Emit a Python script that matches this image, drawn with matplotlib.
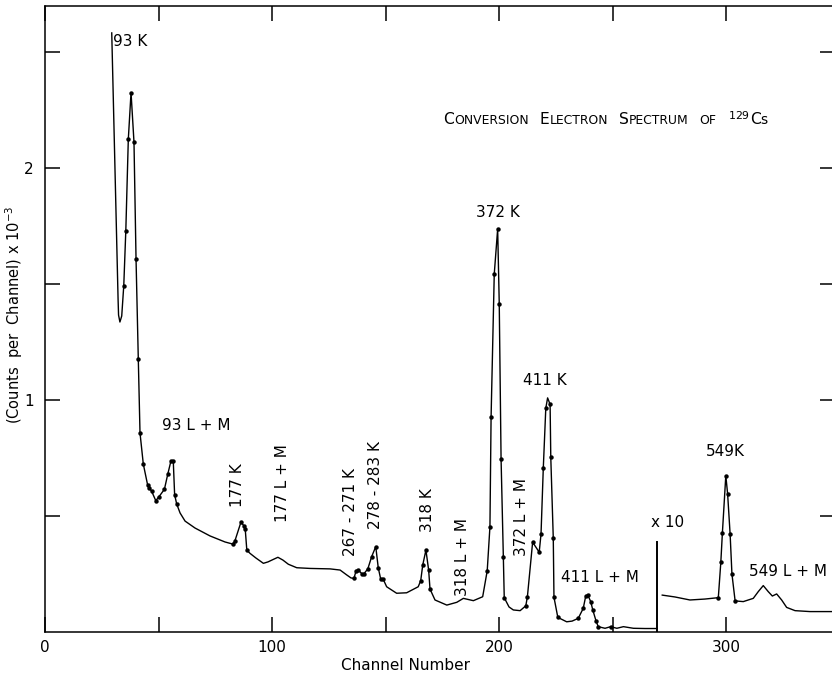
import numpy as np
import matplotlib.pyplot as plt
from matplotlib.offsetbox import TextArea, HPacker, AnnotationBbox

# measured points (dots) and the hand-drawn trace between them, counts in 10^3
main_dot_ch = [34.7, 35.6, 36.7, 37.9, 39.2, 40.1, 41.1, 41.85, 43.3, 45.2, 46.0, 47.0,
               48.8, 50.2, 52.6, 54.1, 55.5, 56.5, 57.1, 58.0,
               82.7, 83.6, 86.3, 87.7, 88.2, 88.9,
               136.1, 137.0, 138.0, 139.8, 140.4, 142.2, 143.9, 145.7, 146.8, 147.9, 149.0,
               165.5, 166.4, 167.8, 169.0, 169.6,
               194.8, 196.0, 196.5, 197.9, 199.4, 200.1, 200.9, 201.9, 202.3,
               211.8, 212.5, 214.8, 217.7, 218.5, 219.5, 220.6, 222.5, 222.8, 223.9, 224.2, 225.9,
               234.9, 237.1, 238.2, 239.1, 240.4, 241.3, 242.7, 243.7, 249.2]
main_dot_cnt = [1.493, 1.730, 2.124, 2.325, 2.111, 1.608, 1.175, 0.858, 0.724, 0.634, 0.621, 0.606,
                0.566, 0.583, 0.615, 0.681, 0.738, 0.738, 0.592, 0.552,
                0.379, 0.391, 0.473, 0.457, 0.444, 0.353,
                0.231, 0.263, 0.267, 0.249, 0.250, 0.272, 0.325, 0.368, 0.277, 0.227, 0.227,
                0.221, 0.289, 0.353, 0.267, 0.185,
                0.264, 0.454, 0.925, 1.543, 1.737, 1.414, 0.747, 0.325, 0.148,
                0.113, 0.152, 0.387, 0.344, 0.422, 0.706, 0.964, 0.981, 0.753, 0.404, 0.150, 0.063,
                0.059, 0.102, 0.155, 0.159, 0.131, 0.095, 0.049, 0.023, 0.023]

main_line_ch = [29.4, 32.2, 32.4, 33.0, 33.8,
                59.5, 61.7, 66.1, 72.7, 79.3,
                90.3, 92.9, 96.2, 98.2, 100.6, 102.6, 104.8, 107.2, 110.9, 116.7, 125.6, 130.0,
                132.9, 134.8,
                150.5, 154.9, 159.3, 164.4,
                171.8, 177.0, 181.4, 184.3, 188.7, 192.8,
                204.4, 206.3, 209.3, 221.4,
                229.8, 232.2,
                246.7, 251.9, 254.8, 259.2, 264.3, 269.6]
main_line_cnt = [2.582, 1.431, 1.366, 1.336, 1.362,
                 0.513, 0.478, 0.448, 0.414, 0.388,
                 0.339, 0.319, 0.296, 0.302, 0.313, 0.322, 0.310, 0.292, 0.277, 0.274, 0.272, 0.267,
                 0.246, 0.233,
                 0.195, 0.167, 0.169, 0.195,
                 0.138, 0.116, 0.128, 0.145, 0.135, 0.152,
                 0.108, 0.095, 0.092, 1.009,
                 0.044, 0.047,
                 0.016, 0.016, 0.023, 0.016, 0.015, 0.015]

# high-energy part, plotted x10
x10_dot_ch = [296.6, 297.7, 298.4, 299.9, 300.7, 301.8, 302.6, 304.0]
x10_dot_cnt = [0.148, 0.300, 0.428, 0.674, 0.595, 0.422, 0.250, 0.134]

x10_line_ch = [271.9, 277.5, 284.1, 290.7, 307.6, 312.0, 314.2, 316.4, 318.6, 320.4,
               322.3, 324.5, 326.7, 330.4, 337.0, 346.7, 349.0]
x10_line_cnt = [0.159, 0.151, 0.138, 0.142, 0.131, 0.145, 0.174, 0.200, 0.174, 0.155,
                0.164, 0.138, 0.106, 0.092, 0.088, 0.088, 0.088]

break_ch = 269.8
break_top = 0.388

# peak labels: text, channel, counts, rotation
peak_labels = [
    ("93 K", 37.4, 2.543, 0),
    ("93 L + M", 66.5, 0.888, 0),
    ("177 K", 85.0, 0.634, 90),
    ("177 L + M", 104.8, 0.642, 90),
    ("267 - 271 K", 134.4, 0.517, 90),
    ("278 - 283 K", 145.4, 0.634, 90),
    ("318 K", 168.7, 0.526, 90),
    ("318 L + M", 183.7, 0.323, 90),
    ("372 K", 199.6, 1.81, 0),
    ("372 L + M", 209.7, 0.496, 90),
    ("411 K", 220.3, 1.086, 0),
    ("411 L + M", 244.5, 0.233, 0),
    ("x 10", 274.4, 0.474, 0),
    ("549K", 299.6, 0.776, 0),
    ("549 L + M", 327.3, 0.259, 0),
]


def merged(dot_ch, dot_cnt, line_ch, line_cnt):
    ch = np.concatenate([dot_ch, line_ch])
    cnt = np.concatenate([dot_cnt, line_cnt])
    order = np.argsort(ch)
    return ch[order], cnt[order]


fig = plt.figure(figsize=(8.32, 6.77), dpi=100)
ax = fig.add_axes([45 / 832, 45 / 677, 790 / 832, 626 / 677])

for dch, dcnt, lch, lcnt in [(main_dot_ch, main_dot_cnt, main_line_ch, main_line_cnt),
                             (x10_dot_ch, x10_dot_cnt, x10_line_ch, x10_line_cnt)]:
    ch, cnt = merged(dch, dcnt, lch, lcnt)
    ax.plot(ch, cnt, color="black", lw=1.0)
    ax.plot(dch, dcnt, "o", color="black", ms=3.2, mew=0)

ax.plot([break_ch, break_ch], [0, break_top], color="black", lw=1.4)

for txt, ch, cnt, rot in peak_labels:
    ax.text(ch, cnt, txt, rotation=rot, ha="center", va="center", fontsize=11)

# small-caps title
words = [("C", "ONVERSION"), ("E", "LECTRON"), ("S", "PECTRUM"), ("", "OF")]
boxes = []
for big, small in words:
    parts = []
    if big:
        parts.append(TextArea(big, textprops=dict(size=11.2)))
    parts.append(TextArea(small, textprops=dict(size=8.9)))
    boxes.append(HPacker(children=parts, sep=0, pad=0, align="baseline"))
boxes.append(HPacker(children=[TextArea(r"$^{129}$", textprops=dict(size=11.2)),
                               TextArea("C", textprops=dict(size=11.2)),
                               TextArea("s", textprops=dict(size=10))],
                     sep=0, pad=0, align="baseline"))
title = HPacker(children=boxes, sep=8, pad=0, align="baseline")
ax.add_artist(AnnotationBbox(title, (175.3, 2.207), box_alignment=(0, 0.5),
                             frameon=False, pad=0))

ax.set_xlim(0, 348)
ax.set_ylim(0, 2.698)
ax.set_xticks(np.arange(0, 350, 50))
ax.set_xticklabels(["0", "", "100", "", "200", "", "300"])
ax.set_yticks(np.arange(0.5, 2.6, 0.5))
ax.set_yticklabels(["", "1", "", "2", ""])
ax.tick_params(direction="in", length=11, width=1.1, top=True, right=True, labelsize=11)
ax.tick_params(axis="x", pad=6)
ax.tick_params(axis="y", pad=8)
for sp in ax.spines.values():
    sp.set_linewidth(1.1)

ax.set_xlabel("Channel Number", fontsize=11, va="center")
ax.xaxis.set_label_coords(0.456, -0.053)
ax.set_ylabel(r"(Counts  per  Channel) x 10$^{-3}$", fontsize=10.5, va="center", ha="center")
ax.yaxis.set_label_coords(-0.039, 0.506)

fig.savefig("out.png", dpi=100)
